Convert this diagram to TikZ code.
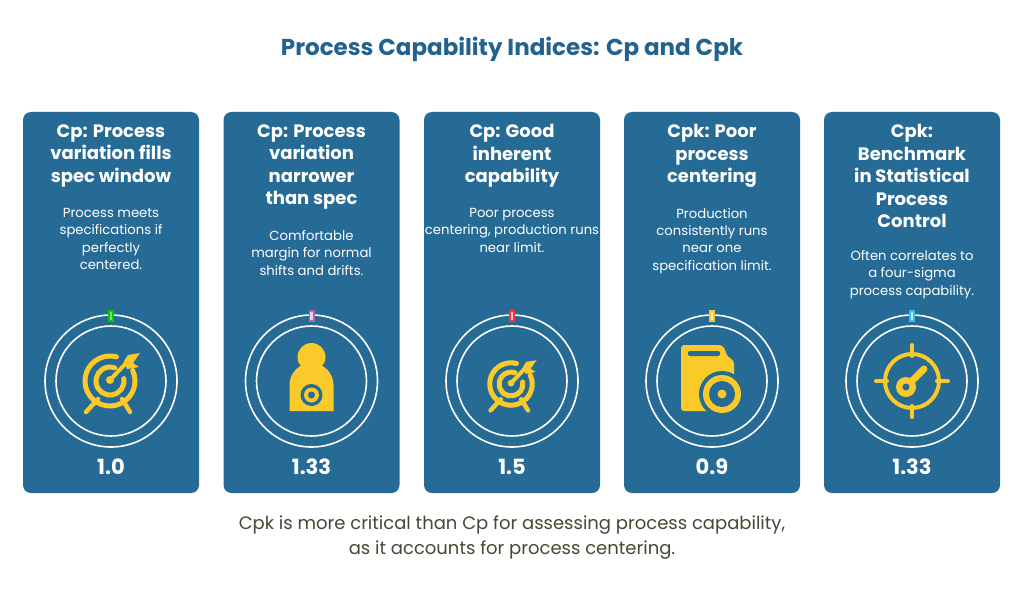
\documentclass[tikz,border=0pt]{standalone}
\usepackage{fontspec}
\setmainfont{Poppins}
\begin{document}
\begin{tikzpicture}[x=1pt,y=-1pt,
  card/.style={fill=cardc,rounded corners=8pt,draw=none},
  ring/.style={draw=white,line width=1.6pt},
  ttl/.style={text=white,font=\fontsize{18}{22.5}\selectfont\bfseries,align=center,anchor=north},
  dsc/.style={text=white,font=\fontsize{13.2}{17.2}\selectfont,align=center,anchor=north},
  num/.style={text=white,font=\fontsize{21}{24}\selectfont\bfseries,anchor=center},
  icl/.style={draw=iconc,line width=5pt,line cap=round}]
\definecolor{cardc}{HTML}{266A96}
\definecolor{iconc}{HTML}{F9CA2A}
\definecolor{titc}{HTML}{23628F}
\definecolor{botc}{HTML}{4A4636}
\useasboundingbox (0,0) rectangle (1024,607);
\fill[white] (0,0) rectangle (1024,607);
\node[text=titc,font=\fontsize{23}{26}\selectfont\bfseries] (title) at (512,49) {Process Capability Indices: Cp and Cpk};
\foreach \cx/\t/\n/\mc/\k in {
 111/{Cp: Process\\variation fills\\spec window}/1.0/green!80!black/1,
 311.5/{Cp: Process\\variation\\narrower\\than spec}/1.33/violet!60/2,
 512/{Cp: Good\\inherent\\capability}/1.5/red!80/3,
 712/{Cpk: Poor\\process\\centering}/0.9/iconc/4,
 912/{Cpk:\\Benchmark\\in Statistical\\Process\\Control}/1.33/cyan!80/5}{
  \fill[card] (\cx-88,112) rectangle (\cx+88,493);
  \node[ttl] (t\k) at (\cx,121) {\t};
  \draw[ring] (\cx,381) circle (66);
  \draw[ring] (\cx,381) circle (55);
  \fill[\mc] (\cx-3,310) rectangle (\cx+3,322);
  \fill[white!70!\mc] (\cx-1.2,312) rectangle (\cx+1.2,320);
  \node[num] (n\k) at (\cx,467) {\n};
}
\node[dsc] (d1) at (111,205) {Process meets\\specifications if\\perfectly\\centered.};
\node[dsc] (d2) at (311.5,227) {Comfortable\\margin for normal\\shifts and drifts.};
\node[dsc] (d3) at (512,205) {Poor process\\centering, production runs\\near limit.};
\node[dsc] (d4) at (712,205) {Production\\consistently runs\\near one\\specification limit.};
\node[dsc] (d5) at (912,247) {Often correlates to\\a four-sigma\\process capability.};
% icon 1: target with arrow
\begin{scope}[shift={(110,381)}]
 \draw[icl] (-25:25) arc (-25:285:25);
 \draw[icl] (-10:14) arc (-10:290:14);
 \fill[iconc] (0,-1) circle (4);
 \draw[icl,line width=4pt] (0,-1) -- (20,-22);
 \fill[iconc] (18,-26) -- (30,-28) -- (23,-18) -- (29,-14) -- (17,-12) -- (14,-20)--cycle;
 \draw[icl,line width=4.5pt] (-12,18) -- (-24,31);
 \draw[icl,line width=4.5pt] (12,18) -- (20,31);
\end{scope}
% icon 2: silhouette target
\begin{scope}[shift={(311.5,381)}]
 \fill[iconc] (0,-24) circle (14);
 \fill[iconc] (-22,30) -- (-22,4) arc (180:360:22) -- (22,30) -- cycle;
 \fill[iconc] (-8,-14) rectangle (8,-12);
 \fill[cardc] (0,14) circle (11);
 \fill[iconc] (0,14) circle (7.5);
 \fill[cardc] (0,14) circle (3.5);
\end{scope}
% icon 3: smaller target
\begin{scope}[shift={(511,384)},scale=0.85]
 \draw[icl] (-25:25) arc (-25:285:25);
 \draw[icl] (-10:14) arc (-10:290:14);
 \fill[iconc] (0,-1) circle (4);
 \draw[icl,line width=4pt] (0,-1) -- (20,-22);
 \fill[iconc] (18,-26) -- (30,-28) -- (23,-18) -- (29,-14) -- (17,-12) -- (14,-20)--cycle;
 \draw[icl,line width=4.5pt] (-12,18) -- (-24,31);
 \draw[icl,line width=4.5pt] (12,18) -- (20,31);
\end{scope}
% icon 4: folder with disc
\begin{scope}[shift={(712,381)}]
 \fill[iconc,rounded corners=3pt] (-31,-36) -- (10,-36) -- (14,-30) -- (14,-26) -- (22,-20) -- (22,30) -- (-31,30) -- cycle;
 \fill[cardc,rounded corners=2pt] (-24,-30) rectangle (8,-25);
 \fill[cardc] (10,13) circle (23);
 \fill[iconc] (10,13) circle (19);
 \fill[cardc] (10,13) circle (13);
 \fill[iconc] (10,13) circle (4.5);
\end{scope}
% icon 5: crosshair with key
\begin{scope}[shift={(912,381)}]
 \draw[iconc,line width=4pt] (0,0) circle (27);
 \draw[icl,line width=4pt] (0,-36) -- (0,-25) (0,25) -- (0,36) (-36,0) -- (-25,0) (25,0) -- (36,0);
 \draw[icl,line width=7pt] (-6,6) -- (12,-12);
 \fill[iconc] (-6,6) circle (10);
 \fill[cardc] (-6,6) circle (3.5);
\end{scope}
\node[text=botc,font=\fontsize{18}{25}\selectfont,align=center] (foot) at (512,538) {Cpk is more critical than Cp for assessing process capability,\\as it accounts for process centering.};
\end{tikzpicture}
\end{document}
